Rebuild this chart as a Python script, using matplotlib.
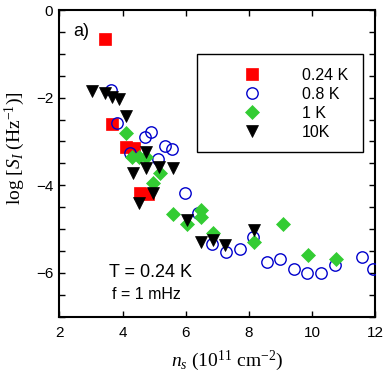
import matplotlib
matplotlib.use("Agg")
import matplotlib.pyplot as plt
from matplotlib.ticker import MultipleLocator
from matplotlib.patches import Rectangle

plt.rcParams['font.family'] = ['Liberation Sans', 'DejaVu Sans']
plt.rcParams['mathtext.fontset'] = 'custom'
plt.rcParams['mathtext.rm'] = 'Liberation Serif'
plt.rcParams['mathtext.it'] = 'Liberation Serif:italic'

# 0.24 K (red squares)
x_024 = [3.45, 3.65, 4.10, 4.35, 4.55, 4.80]
y_024 = [-0.67, -2.60, -3.12, -3.15, -4.17, -4.21]

# 0.8 K (blue open circles)
x_08 = [3.62, 3.83, 4.89, 4.71, 5.34, 5.56, 5.13, 4.23, 5.98, 6.40, 6.84,
        7.28, 7.72, 8.14, 8.57, 9.00, 9.43, 9.85, 10.28, 10.72, 11.59, 11.93]
y_08 = [-1.83, -2.57, -2.78, -2.91, -3.10, -3.18, -3.39, -3.27, -4.17, -4.64, -5.35,
        -5.52, -5.46, -5.19, -5.75, -5.69, -5.90, -6.00, -6.00, -5.82, -5.63, -5.92]

# 1 K (green diamonds)
x_1 = [4.11, 4.29, 4.53, 4.74, 5.19, 4.97, 5.61, 6.03, 6.48, 6.50, 6.87,
       8.17, 9.07, 9.89, 10.77]
y_1 = [-2.80, -3.35, -3.36, -3.35, -3.73, -3.94, -4.66, -4.89, -4.57, -4.72, -5.10,
       -5.29, -4.89, -5.59, -5.69]

# 10 K (black down triangles)
x_10 = [3.02, 3.44, 3.65, 3.90, 4.11, 4.74, 4.32, 4.74, 5.16, 5.61, 4.95, 4.53,
        6.03, 6.48, 6.87, 7.25, 8.17]
y_10 = [-1.86, -1.90, -1.98, -2.04, -2.42, -3.23, -3.71, -3.61, -3.58, -3.61, -4.18, -4.41,
        -4.79, -5.29, -5.25, -5.37, -5.02]

labels = ['0.24 K', '0.8 K', '1 K', '10K']
x_ticks = [2, 4, 6, 8, 10, 12]
y_ticks = [0, -2, -4, -6]

fig = plt.figure(figsize=(3.87, 3.76), dpi=100)
ax = fig.add_axes([59.5/387, 1-316.7/376, (375-59.5)/387, (316.7-10)/376])

h1, = ax.plot(x_024, y_024, ls='none', marker='s', ms=9, mfc='#ff0000', mec='#ff0000', mew=0.5, zorder=3)
h2, = ax.plot(x_08, y_08, ls='none', marker='o', ms=8.2, mfc='none', mec='#0000cc', mew=1.0, zorder=4)
h4, = ax.plot(x_10, y_10, ls='none', marker='v', ms=9, mfc='black', mec='black', mew=0.5, zorder=5)
h3, = ax.plot(x_1, y_1, ls='none', marker='D', ms=7.3, mfc='#33cc33', mec='#33cc33', mew=0.5, zorder=4)

ax.set_xlim(2, 12)
ax.set_ylim(-7, 0)
ax.set_xticks(x_ticks)
ax.set_yticks(y_ticks)
ax.yaxis.set_minor_locator(MultipleLocator(0.5))
ax.tick_params(axis='both', which='both', direction='in', top=True, right=True,
               labelsize=11, width=1.0)
ax.tick_params(axis='x', which='major', length=4.3, pad=6.5)
ax.tick_params(axis='y', which='both', length=4.0, pad=4.5)
for s in ax.spines.values():
    s.set_linewidth(1.5)

# legend box
ax.add_patch(Rectangle((0.435, 0.538), 0.963-0.435, 0.8566-0.538, transform=ax.transAxes,
                       fill=False, ec='black', lw=1.0, zorder=6))
ax.legend([h1, h2, h3, h4], labels, loc='upper left', bbox_to_anchor=(0.586, 0.812),
          frameon=False, fontsize=11.5, handlelength=1.0, handletextpad=2.6,
          labelspacing=0.25, borderpad=0, borderaxespad=0)

ax.text(2.43, -0.50, 'a)', fontsize=13, ha='left', va='center')
ax.text(4.87, -5.99, 'T = 0.24 K', fontsize=13, ha='center', va='center')
ax.text(4.76, -6.50, 'f = 1 mHz', fontsize=11.5, ha='center', va='center')

fig.text(15/387, 1-148/376, r'log [$S_I$ (Hz$^{-1}$)]', rotation=90, ha='center', va='center',
         fontsize=14, family='Liberation Serif')
fig.text(227/387, 1-361/376, r'$n_s$ (10$^{11}$ cm$^{-2}$)', ha='center', va='center',
         fontsize=14, family='Liberation Serif')

fig.savefig('out.png', dpi=100)
